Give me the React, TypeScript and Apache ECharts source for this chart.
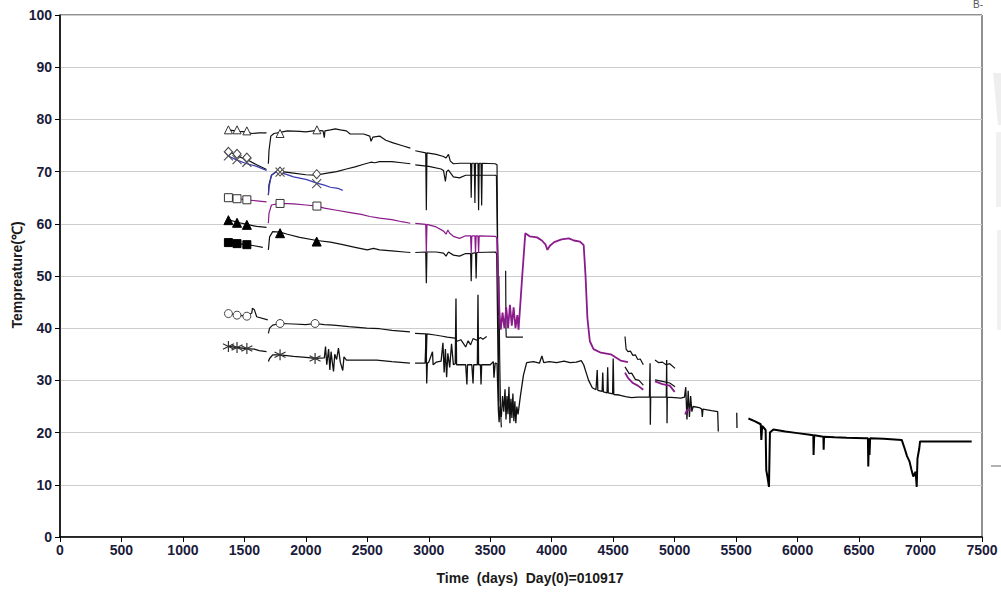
import React, { useEffect, useRef } from "react";
import * as echarts from "echarts";

type P = [number, number] | null;

const xTicks = [0, 500, 1000, 1500, 2000, 2500, 3000, 3500, 4000, 4500, 5000, 5500, 6000, 6500, 7000, 7500];
const yTicks = [0, 10, 20, 30, 40, 50, 60, 70, 80, 90, 100];

// open triangle series (black)
const triOpenLine: P[] = [
  [1370, 78.0], [1450, 77.7], [1520, 77.6], [1560, 77.3], [1620, 77.4], [1680, 77.4], null,
  [1695, 71.5], [1700, 74], [1715, 76.8], [1740, 77.3], [1790, 77.5], [1850, 77.8], [1950, 77.7], [2000, 77.6],
  [2090, 77.9], [2140, 77.8], [2150, 76.5], [2155, 77.8], [2200, 78.0], [2240, 78.2], [2280, 78.0], [2330, 77.8],
  [2360, 77.2], [2470, 77.2], [2520, 76.8], [2530, 75.8], [2545, 76.6], [2600, 76.8], [2650, 76.0], [2710, 75.5],
  [2780, 75.0], [2850, 74.5], null,
  [2890, 74.0], [2975, 73.6], [2980, 62.6], [2985, 73.6], [3060, 73.3], [3120, 72.9], [3140, 72.6], [3160, 73.3],
  [3175, 72.0], [3200, 71.5], [3255, 71.6], [3300, 71.6], [3340, 71.6], [3345, 65], [3350, 71.6], [3370, 71.6],
  [3375, 64], [3380, 71.6], [3400, 71.6], [3405, 62.6], [3410, 71.6], [3425, 71.6], [3430, 63.5], [3435, 71.6],
  [3540, 71.5], [3555, 71.3], [3565, 40], [3570, 24.3], null,
  [4596, 38.4], [4605, 36.0], [4620, 35.5], [4640, 35.6], [4660, 34.8], [4680, 34.9], [4700, 34.0], [4720, 34.1], [4745, 33.0], null,
  [4840, 33.9], [4870, 33.4], [4900, 33.5], [4930, 33.0], [4960, 33.2], [5003, 32.3]
];
const triOpenMarks: [number, number][] = [[1370, 78.0], [1440, 78.0], [1520, 77.8], [1790, 77.3], [2090, 78.0]];

// open diamond series (black)
const diamondLine: P[] = [
  [1370, 74.0], [1440, 73.0], [1520, 72.3], [1600, 71.3], [1680, 70.4], null,
  [1695, 65.5], [1700, 67.5], [1720, 69.3], [1760, 70.0], [1800, 70.0], [1900, 69.7], [2000, 69.4], [2080, 69.3],
  [2150, 69.6], [2250, 70.0], [2330, 70.5], [2400, 70.9], [2470, 71.4], [2530, 71.8], [2560, 71.7], [2600, 71.9],
  [2700, 71.9], [2780, 71.7], [2850, 71.5], null,
  [2890, 71.3], [3000, 71.0], [3100, 70.5], [3120, 70.2], [3135, 68.1], [3145, 70.0], [3160, 70.3], [3200, 69.0],
  [3250, 68.8], [3300, 69.3], [3400, 69.3], [3540, 69.3], [3550, 69.2], [3556, 60], [3562, 51], [3566, 42.5],
  [3570, 50], [3576, 35], [3584, 24], [3590, 21], null,
  [4596, 32.6], [4630, 31.3], [4650, 31.4], [4680, 30.2], [4710, 30.0], [4745, 29.1], null,
  [4840, 30.1], [4900, 29.8], [4960, 29.5], [5003, 28.8]
];
const diamondMarks: [number, number][] = [[1370, 73.8], [1440, 73.4], [1520, 72.7], [1790, 70.0], [2088, 69.5]];

// blue series with x markers
const blueLine: P[] = [
  [1370, 73.0], [1440, 72.2], [1520, 71.5], [1600, 71.0], [1680, 70.2], null,
  [1695, 65.5], [1700, 67], [1720, 69.3], [1760, 70.0], [1800, 69.8], [1900, 69.0], [2000, 68.5], [2090, 67.8],
  [2150, 67.4], [2200, 67.0], [2260, 66.8], [2300, 66.4]
];
const blueMarks: [number, number][] = [[1370, 73.0], [1440, 72.3], [1520, 71.8], [1790, 69.9], [2088, 67.7]];

// purple series with open squares
const purpleLine: P[] = [
  [1370, 64.9], [1450, 64.8], [1520, 64.6], [1600, 64.4], [1680, 64.2], null,
  [1695, 60.1], [1700, 62], [1720, 63.6], [1790, 63.9], [1900, 63.8], [2000, 63.6], [2090, 63.4], [2150, 63.0],
  [2250, 62.6], [2350, 62.2], [2450, 61.8], [2520, 61.4], [2600, 61.1], [2700, 60.8], [2780, 60.4], [2850, 60.1], null,
  [2890, 60.1], [2975, 59.9], [2980, 54.4], [2985, 59.9], [3060, 59.4], [3120, 58.6], [3140, 58.0], [3155, 58.8],
  [3170, 58.2], [3200, 57.6], [3250, 57.2], [3300, 57.7], [3340, 57.7], [3345, 54.4], [3350, 57.7], [3375, 57.7],
  [3380, 54.4], [3385, 57.7], [3400, 57.7], [3405, 54.4], [3410, 57.7], [3540, 57.6], [3555, 57.3]
];
const purpleLate: P[] = [
  [3555, 57.3], [3565, 48], [3575, 43], [3585, 39.7], [3600, 43], [3615, 40], [3630, 44], [3645, 40], [3660, 44.5],
  [3675, 40.5], [3690, 44], [3705, 40], [3720, 42.5], [3730, 39.7], [3760, 50], [3785, 58.2], [3820, 57.6],
  [3880, 57.4], [3920, 56.8], [3950, 56.0], [3965, 55.0], [3985, 55.8], [4020, 56.5], [4080, 57.0], [4140, 57.2],
  [4180, 56.8], [4230, 56.6], [4260, 55.9], [4275, 50], [4290, 42], [4310, 37.5], [4340, 36.0], [4400, 35.3],
  [4480, 35.0], [4560, 33.8], [4620, 33.5], null,
  [4596, 31.5], [4620, 30.5], [4660, 29.5], [4700, 29.0], [4745, 28.2], null,
  [4840, 29.8], [4900, 29.3], [4960, 29.0], [5000, 27.8], null,
  [5085, 23.5], [5100, 24.3], [5130, 24.4]
];
const squareOpenMarks: [number, number][] = [[1370, 65.0], [1440, 64.8], [1520, 64.6], [1790, 63.9], [2090, 63.4]];

// filled triangle series (black)
const triFillLine: P[] = [
  [1370, 60.8], [1440, 60.3], [1520, 59.9], [1600, 59.5], [1680, 59.3], null,
  [1695, 55], [1705, 57.5], [1730, 58.5], [1790, 58.4], [1850, 58.0], [1950, 57.4], [2090, 56.8], [2200, 56.5],
  [2300, 56.0], [2400, 55.5], [2500, 55.0], [2550, 55.3], [2600, 55.0], [2700, 54.8], [2800, 54.6], [2850, 54.5], null,
  [2890, 54.5], [2975, 54.6], [2980, 48.6], [2985, 54.6], [3060, 54.6], [3120, 54.4], [3140, 53.8], [3160, 54.6],
  [3200, 54.0], [3250, 53.8], [3300, 54.3], [3340, 54.3], [3345, 49], [3350, 54.3], [3380, 54.5], [3385, 49.5],
  [3390, 54.5], [3540, 54.6], [3552, 54.3], [3560, 40], [3568, 26]
];
const triFillMarks: [number, number][] = [[1370, 60.7], [1440, 60.2], [1520, 59.8], [1790, 58.2], [2088, 56.6]];

// filled square series (black)
const squareFillLine: P[] = [[1370, 56.4], [1440, 56.2], [1520, 56.0], [1580, 55.8], [1650, 55.5]];
const squareFillMarks: [number, number][] = [[1370, 56.4], [1440, 56.2], [1520, 56.0]];

// open circle series (black)
const circleLine: P[] = [
  [1370, 42.8], [1440, 42.5], [1520, 42.3], [1560, 42.9], [1565, 43.8], [1580, 43.6], [1600, 42.2], [1690, 41.6], null,
  [1695, 39.0], [1705, 40.0], [1730, 40.6], [1790, 40.9], [1900, 40.8], [2000, 40.7], [2075, 40.9], [2150, 40.7],
  [2224, 40.6], [2350, 40.3], [2495, 40.0], [2600, 39.9], [2700, 39.6], [2847, 39.3], null,
  [2888, 39.0], [2975, 38.9], [2980, 34.5], [2985, 38.9], [3050, 38.7], [3100, 38.5], [3150, 38.3], [3213, 38.1],
  [3230, 37.5], [3260, 37.8], [3281, 37.1], [3300, 36.4], [3320, 37.6], [3340, 36.8], [3360, 38.0], [3390, 37.7],
  [3420, 38.2], [3440, 37.9], [3471, 38.4], null,
  [3625, 51], [3628, 39.7], [3630, 38.3], [3766, 38.3]
];
const circleMarks: [number, number][] = [[1370, 42.8], [1440, 42.5], [1520, 42.3], [1790, 40.9], [2075, 40.9]];

// asterisk series (black)
const starLine: P[] = [
  [1370, 36.5], [1440, 36.3], [1520, 36.1], [1580, 36.0], [1620, 35.7], [1680, 35.5], null,
  [1695, 33.6], [1705, 34.2], [1730, 34.9], [1790, 34.9], [1900, 34.6], [2000, 34.4], [2075, 34.2], [2150, 34.3],
  [2160, 36.5], [2170, 33.0], [2185, 36.0], [2195, 32.0], [2205, 35.5], [2215, 33.5], [2225, 31.7], [2235, 35.0],
  [2250, 34.0], [2265, 36.2], [2280, 33.5], [2300, 31.9], [2310, 34.5], [2330, 33.9], [2359, 33.9], [2450, 33.9],
  [2576, 33.9], [2700, 33.6], [2847, 33.3], null,
  [2888, 33.3], [2970, 33.3], [2978, 39.0], [2983, 29.4], [2988, 33.3], [3000, 33.5], [3030, 35.5], [3035, 33.0],
  [3060, 33.5], [3100, 33.7], [3115, 37.2], [3125, 31.5], [3135, 36], [3145, 30.6], [3155, 35.2], [3170, 32.5],
  [3185, 37.0], [3200, 33.0], [3215, 33.2], [3221, 45.7], [3226, 33.0], [3260, 33.0], [3300, 33.0], [3310, 29.2],
  [3315, 33.0], [3350, 33.0], [3360, 29.4], [3365, 33.0], [3395, 33.0], [3400, 46.4], [3405, 33.0], [3420, 33.0],
  [3425, 29.2], [3430, 33.0], [3500, 33.0], [3525, 33.6], [3530, 30.5], [3540, 33.3], [3555, 33.2], [3566, 24.3],
  [3572, 22], [3580, 25], [3590, 23], [3600, 27], [3610, 24], [3620, 28.3], [3628, 22.5], [3636, 27], [3644, 23.5],
  [3652, 28.8], [3660, 21.8], [3668, 26.5], [3676, 22.8], [3684, 27.5], [3692, 22.2], [3700, 26], [3708, 21.8],
  [3716, 25], [3726, 23.5], [3745, 27], [3770, 31], [3796, 33.4], [3850, 33.6], [3900, 33.3], [3920, 34.7],
  [3935, 33.4], [3980, 33.6], [4040, 33.4], [4100, 33.7], [4150, 33.4], [4200, 33.5], [4240, 33.8], [4260, 33.0],
  [4280, 31.5], [4300, 30.0], [4330, 28.6], [4360, 28.2], [4370, 32], [4375, 28.1], [4410, 27.9], [4415, 31.5],
  [4420, 27.8], [4450, 27.6], [4455, 32.5], [4460, 27.6], [4495, 27.4], [4500, 34.2], [4505, 27.3], [4550, 27.2],
  [4600, 26.9], [4650, 26.7], [4700, 26.8], [4795, 26.8], [4800, 33.3], [4802, 21.5], [4805, 26.8], [4880, 26.8],
  [4932, 26.8], [4935, 33.9], [4938, 21.8], [4940, 26.8], [5000, 26.7], [5050, 26.6], [5080, 26.8], [5090, 28.7],
  [5100, 22.5], [5110, 28], [5120, 23], [5130, 27], [5140, 24], [5150, 25], [5200, 24.8], [5220, 24.5], [5225, 23],
  [5230, 24.5], [5300, 24.2], [5350, 24.0], [5355, 20.2], null,
  [5505, 23.8], [5507, 20.9]
];
const starMarks: [number, number][] = [[1370, 36.5], [1440, 36.3], [1520, 36.1], [1790, 34.9], [2075, 34.2]];

// late black tail
const tailLine: P[] = [
  [5600, 22.7], [5650, 22.2], [5700, 21.6], [5705, 18.6], [5712, 21.3], [5740, 20.5], [5745, 12.8], [5755, 11.5],
  [5767, 9.6], [5775, 20.0], [5803, 20.6], [5900, 20.2], [6000, 19.9], [6100, 19.6], [6128, 19.5], [6130, 15.7],
  [6135, 19.5], [6210, 19.2], [6212, 16.7], [6215, 19.2], [6300, 19.1], [6400, 19.0], [6549, 18.9], [6572, 18.9],
  [6575, 13.5], [6580, 18.9], [6585, 15.7], [6590, 18.9], [6700, 18.8], [6847, 18.6], [6870, 17], [6890, 15.5],
  [6910, 14.5], [6925, 13], [6941, 11.6], [6960, 12.5], [6969, 9.6], [6975, 15], [6990, 17], [6996, 18.3],
  [7000, 18.3], [7100, 18.3], [7200, 18.3], [7300, 18.3], [7416, 18.3]
];

const FONT = "'Liberation Sans', Arial, sans-serif";
const LABEL = "#1b1b3b";

function toData(arr: P[]) {
  return arr.map((p) => (p ? p : ["-", "-"]));
}

function lineSeries(data: P[], color: string, width: number, z = 2) {
  return {
    type: "line",
    data: toData(data),
    showSymbol: false,
    symbol: "none",
    connectNulls: false,
    lineStyle: { color, width },
    z,
    silent: true,
  };
}

function markSeries(data: [number, number][], symbol: string, size: any, fill: string, stroke: string, bw = 1) {
  return {
    type: "scatter",
    data,
    symbol,
    symbolSize: size,
    itemStyle: { color: fill, borderColor: stroke, borderWidth: bw, opacity: 1 },
    z: 5,
    silent: true,
  };
}

export default function App() {
  const ref = useRef<HTMLDivElement>(null);
  useEffect(() => {
    if (!ref.current) return;
    const chart = echarts.init(ref.current, null, { renderer: "svg" });
    const X_PATH = "path://M0,0L10,10M10,0L0,10";
    const STAR_PATH = "path://M5,0L5,10M0.7,2.5L9.3,7.5M0.7,7.5L9.3,2.5";
    chart.setOption({
      animation: false,
      backgroundColor: "#ffffff",
      grid: { left: 60, right: 19, top: 15, bottom: 56, show: true, borderColor: "#222", borderWidth: 1, backgroundColor: "transparent" },
      xAxis: {
        type: "value",
        min: xTicks[0],
        max: xTicks[xTicks.length - 1],
        interval: 500,
        axisLine: { show: true, onZero: false, lineStyle: { color: "#000", width: 1.5 } },
        axisTick: { show: true, length: 5, lineStyle: { color: "#000" } },
        axisLabel: {
          color: LABEL, fontFamily: FONT, fontWeight: "bold", fontSize: 14, margin: 6,
          formatter: (v: number) => String(v),
        },
        splitLine: { show: false },
      },
      yAxis: {
        type: "value",
        min: yTicks[0],
        max: yTicks[yTicks.length - 1],
        interval: 10,
        axisLine: { show: true, onZero: false, lineStyle: { color: "#000", width: 1.5 } },
        axisTick: { show: true, length: 5, lineStyle: { color: "#000" } },
        axisLabel: {
          color: LABEL, fontFamily: FONT, fontWeight: "bold", fontSize: 14, margin: 8,
          formatter: (v: number) => String(v),
        },
        splitLine: { show: true, lineStyle: { color: "#cdcdcd", width: 1 } },
      },
      series: [
        lineSeries(triOpenLine, "#111", 1.2),
        lineSeries(diamondLine, "#111", 1.2),
        lineSeries(triFillLine, "#111", 1.2),
        lineSeries(squareFillLine, "#111", 1.2),
        lineSeries(circleLine, "#111", 1.2),
        lineSeries(starLine, "#111", 1.3),
        lineSeries(tailLine, "#000", 2),
        lineSeries(purpleLine, "#8b1a8b", 1.2, 3),
        lineSeries(purpleLate, "#8b1a8b", 1.8, 3),
        lineSeries(blueLine, "#3a3ab8", 1.2, 3),
        markSeries(triOpenMarks, "triangle", 8, "#fff", "#333"),
        markSeries(diamondMarks, "diamond", [8, 9], "#fff", "#444"),
        markSeries(blueMarks, X_PATH, 9, "transparent", "#555", 1.2),
        markSeries(squareOpenMarks, "rect", 8, "#fff", "#333"),
        markSeries(triFillMarks, "triangle", 9, "#000", "#000"),
        markSeries(squareFillMarks, "rect", 8, "#000", "#000"),
        markSeries(circleMarks, "circle", 8, "#fff", "#444"),
        markSeries(starMarks, STAR_PATH, 11, "transparent", "#333", 1.2),
      ],
      graphic: [
        {
          type: "text",
          x: 530,
          y: 578,
          style: {
            text: "Time\u00a0 (days)\u00a0 Day(0)=010917",
            fontFamily: FONT,
            fontWeight: "bold",
            fontSize: 14,
            fill: "#1a1a1a",
            align: "center",
            verticalAlign: "middle",
          },
        },
        {
          type: "text",
          x: 17,
          y: 275,
          rotation: Math.PI / 2,
          style: {
            text: "Tempreature(℃)",
            fontFamily: FONT,
            fontWeight: "bold",
            fontSize: 14,
            fill: "#1a1a1a",
            align: "center",
            verticalAlign: "middle",
          },
        },
        {
          type: "text",
          x: 973,
          y: -1,
          style: { text: "B-", fontFamily: FONT, fontSize: 10, fill: "#555", align: "left", verticalAlign: "top" },
        },
        { type: "polygon", shape: { points: [[993, 73], [1001, 73], [1001, 125], [998, 125]] }, style: { fill: "#eeeeee" } },
        { type: "rect", shape: { x: 996, y: 132, width: 5, height: 75 }, style: { fill: "#f1f1f1" } },
        { type: "rect", shape: { x: 997, y: 230, width: 4, height: 100 }, style: { fill: "#f1f1f1" } },
        { type: "line", shape: { x1: 991, y1: 466, x2: 1001, y2: 466 }, style: { stroke: "#999", lineWidth: 1.5 } },
      ],
    });
    return () => chart.dispose();
  }, []);
  return <div ref={ref} style={{ position: "fixed", left: 0, top: 0, width: 1001, height: 593, background: "#fff" }} />;
}
